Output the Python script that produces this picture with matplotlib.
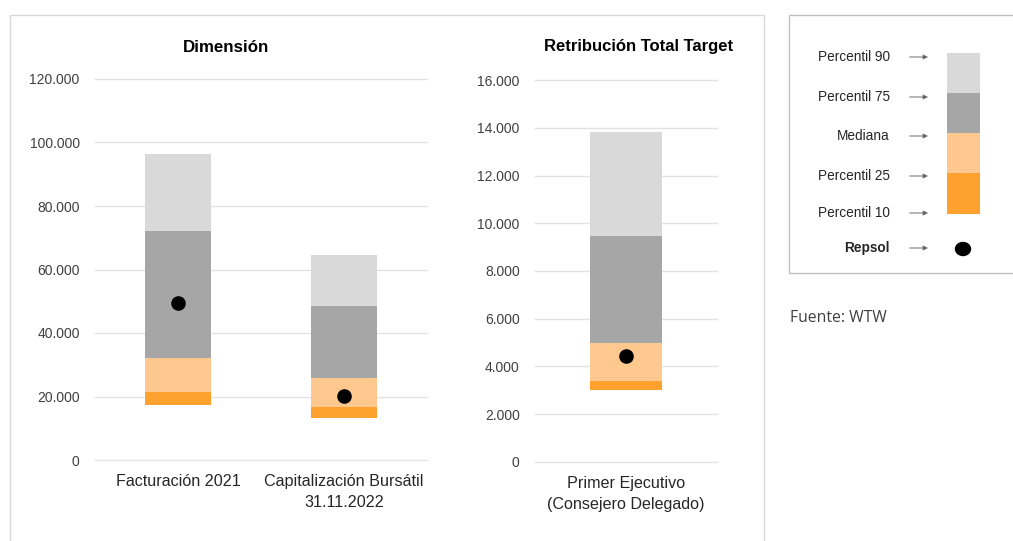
import matplotlib
matplotlib.use("Agg")
import matplotlib.pyplot as plt
from matplotlib.patches import Rectangle, Ellipse
from matplotlib.ticker import FuncFormatter

plt.rcParams['font.family'] = ['Liberation Sans', 'DejaVu Sans']

# datos (percentiles y Repsol)
dim_cats = ['Facturación 2021', 'Capitalización Bursátil\n31.11.2022']
dim_p10 = [17300, 13100]
dim_p25 = [21300, 16600]
dim_med = [32000, 25900]
dim_p75 = [72000, 48500]
dim_p90 = [96400, 64600]
dim_repsol = [49400, 20200]

rtt_cats = ['Primer Ejecutivo\n(Consejero Delegado)']
rtt_p10 = [3000]
rtt_p25 = [3400]
rtt_med = [4990]
rtt_p75 = [9480]
rtt_p90 = [13850]
rtt_repsol = [4430]

leg_labels = ['Percentil 90', 'Percentil 75', 'Mediana', 'Percentil 25', 'Percentil 10', 'Repsol']
colores = ['#D9D9D9', '#A6A6A6', '#FFC88E', '#FFA12F']  # p75-p90, med-p75, p25-med, p10-p25

W, H = 1013, 541
fig = plt.figure(figsize=(W / 100, H / 100), dpi=100)


def fx(px):
    return px / W


def fy(py):
    return 1 - py / H


def miles(v, pos):
    return f"{int(v):,}".replace(",", ".")


def caja(ax, cats, p10, p25, med, p75, p90, rep, ymax, step):
    x = range(len(cats))
    tramos = [(p10, p25), (p25, med), (med, p75), (p75, p90)]
    cols = colores[::-1]
    for (lo, hi), c in zip(tramos, cols):
        ax.bar(x, [h - l for l, h in zip(lo, hi)], bottom=lo, width=0.395, color=c, zorder=2)
    ax.plot(x, rep, 'o', color='black', ms=9.5, zorder=3)
    ax.set_xlim(-0.5, len(cats) - 0.5)
    ax.set_ylim(0, ymax)
    ax.set_yticks(range(0, ymax + 1, step))
    ax.yaxis.set_major_formatter(FuncFormatter(miles))
    ax.set_xticks(list(x))
    ax.set_xticklabels(cats, fontsize=11.6, color='#262626', linespacing=1.55)
    ax.grid(axis='y', color='#E3E3E3', lw=1, zorder=0)
    for gl in ax.get_ygridlines():
        gl.set_clip_on(False)
    for s in ax.spines.values():
        s.set_visible(False)
    ax.tick_params(axis='y', length=0, pad=11, labelsize=10, labelcolor='#404040')
    ax.tick_params(axis='x', length=0, pad=10)


# marco de los graficos
fig.patches.append(Rectangle((fx(10), fy(560)), fx(754), fy(15) - fy(560), transform=fig.transFigure,
                             fill=False, ec='#D9D9D9', lw=1))

ax1 = fig.add_axes([fx(95), fy(460), fx(332), fy(79) - fy(460)])
caja(ax1, dim_cats, dim_p10, dim_p25, dim_med, dim_p75, dim_p90, dim_repsol, 120000, 20000)
fig.text(fx(226), fy(47), 'Dimensión', ha='center', va='center', fontsize=12.2, fontweight='bold')

ax2 = fig.add_axes([fx(535), fy(461.7), fx(182), fy(80.3) - fy(461.7)])
caja(ax2, rtt_cats, rtt_p10, rtt_p25, rtt_med, rtt_p75, rtt_p90, rtt_repsol, 16000, 2000)
fig.text(fx(639), fy(47), 'Retribución Total Target', ha='center', va='center', fontsize=12,
         fontweight='bold')

# leyenda
fig.patches.append(Rectangle((fx(789), fy(273)), fx(240), fy(15) - fy(273), transform=fig.transFigure,
                             fill=False, ec='#BFBFBF', lw=1))
lax = fig.add_axes([0, 0, 1, 1], facecolor='none')
lax.set_xlim(0, W)
lax.set_ylim(H, 0)
lax.axis('off')
ys = [57, 97, 136, 176, 213, 248]
for lab, y in zip(leg_labels, ys):
    lax.text(890, y, lab, ha='right', va='center', fontsize=9.8, color='#262626',
             fontweight='bold' if lab == 'Repsol' else 'normal')
    lax.annotate('', xy=(931, y), xytext=(907, y),
                 arrowprops=dict(arrowstyle='-|>', color='#7F7F7F', fc='#333333', lw=0.8,
                                 mutation_scale=7))
bordes = [53, 93, 133, 173, 214]
for c, y0, y1 in zip(colores, bordes[:-1], bordes[1:]):
    lax.add_patch(Rectangle((947, y0), 33, y1 - y0, color=c, lw=0))
lax.add_patch(Ellipse((963, 249), 15, 13, color='black'))

fig.text(fx(790), fy(318), 'Fuente: WTW', ha='left', va='center', fontsize=11.3, color='#404040',
         family=['Open Sans', 'DejaVu Sans'])

fig.savefig('out.png', dpi=100)
